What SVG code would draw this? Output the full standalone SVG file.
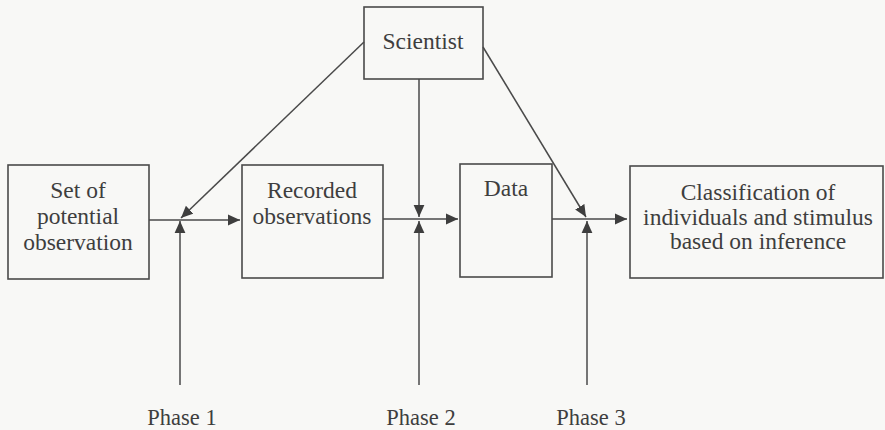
<svg xmlns="http://www.w3.org/2000/svg" width="885" height="430" viewBox="0 0 885 430">
<style>
.box{fill:none;stroke:#4a4a4a;stroke-width:1.6}
.ln{fill:none;stroke:#4a4a4a;stroke-width:1.5}
.t{font-family:'Liberation Serif','Times New Roman',serif;font-size:23.5px;fill:#3e3e3e;text-anchor:middle}
.p{font-size:22.5px}
</style>
<defs>
<marker id="ahb" viewBox="0 0 10 10" refX="10" refY="5" markerWidth="12" markerHeight="12" markerUnits="userSpaceOnUse" orient="auto">
<path d="M0,0.5 L10,5 L0,9.5 z" fill="#3e3e3e"/>
</marker>
</defs>
<rect width="885" height="430" fill="#f8f8f6"/>
<g id="scientist">
<rect class="box" x="364" y="7" width="119" height="72"/>
<text class="t" x="423" y="49">Scientist</text>
</g>
<g id="set">
<rect class="box" x="8" y="165" width="141" height="114"/>
<text class="t" x="78" y="198">Set of</text>
<text class="t" x="78" y="224">potential</text>
<text class="t" x="78" y="250">observation</text>
</g>
<g id="recorded">
<rect class="box" x="242" y="165" width="141" height="113"/>
<text class="t" x="312" y="198">Recorded</text>
<text class="t" x="312" y="224">observations</text>
</g>
<g id="data">
<rect class="box" x="460" y="164" width="92" height="113"/>
<text class="t" x="506" y="196">Data</text>
</g>
<g id="classification">
<rect class="box" x="630" y="166" width="253" height="112"/>
<text class="t" x="758" y="200">Classification of</text>
<text class="t" x="758" y="225">individuals and stimulus</text>
<text class="t" x="758" y="249">based on inference</text>
</g>
<g id="phase1"><text class="t p" x="182" y="425">Phase 1</text></g>
<g id="phase2"><text class="t p" x="421" y="425">Phase 2</text></g>
<g id="phase3"><text class="t p" x="591" y="425">Phase 3</text></g>
<g id="connectors">
<line class="ln" x1="149" y1="220" x2="240" y2="220" marker-end="url(#ahb)"/>
<line class="ln" x1="383" y1="219" x2="458" y2="219" marker-end="url(#ahb)"/>
<line class="ln" x1="552" y1="219" x2="627" y2="219" marker-end="url(#ahb)"/>
<line class="ln" x1="180" y1="385" x2="180" y2="221" marker-end="url(#ahb)"/>
<line class="ln" x1="419" y1="385" x2="419" y2="221" marker-end="url(#ahb)"/>
<line class="ln" x1="587" y1="385" x2="587" y2="221" marker-end="url(#ahb)"/>
<line class="ln" x1="364" y1="42" x2="181" y2="218" marker-end="url(#ahb)"/>
<line class="ln" x1="419" y1="79" x2="419" y2="217" marker-end="url(#ahb)"/>
<line class="ln" x1="483" y1="47" x2="586" y2="217" marker-end="url(#ahb)"/>
</g>
</svg>
